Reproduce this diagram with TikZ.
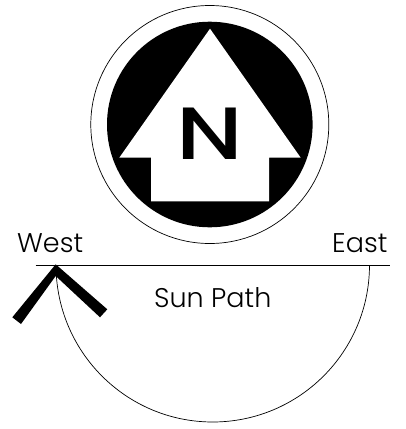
\documentclass[tikz,border=0pt]{standalone}
\usepackage{fontspec}
\setmainfont{Poppins Light}
\newfontfamily\nfont[FakeStretch=1.25]{Poppins Medium}
\tikzset{
  lab/.style={inner sep=0pt,anchor=base west,font=\fontsize{27}{27}\selectfont},
  thin line/.style={draw=black,line width=0.7pt},
  solid black/.style={fill=black,draw=none},
  solid white/.style={fill=white,draw=none}
}
\begin{document}
\begin{tikzpicture}[x=1pt,y=-1pt]
\useasboundingbox (0,0) rectangle (406,429);
\coordinate (c) at (209.8,124.5);
\draw[thin line] (c) circle[radius=119];
\fill[solid black] (c) circle[radius=102.8];
\fill[solid white] (210,28.7) -- (300.7,157.7) -- (269,157.7) -- (269,201.3) -- (151,201.3) -- (151,157.7) -- (119.3,157.7) -- cycle;
\node[inner sep=0pt,anchor=base] (n) at (209.5,159) {\nfont\fontsize{74}{74}\selectfont N};
\node[lab] (west) at (17,252) {West};
\node[lab] (east) at (332,252) {East};
\node[lab] (sun) at (154,307.7) {Sun Path};
\coordinate (l) at (35.5,265);
\coordinate (r) at (389.5,265);
\coordinate (a) at (56,265);
\coordinate (b) at (369.5,265);
\draw[thin line] (l) -- (r);
\draw[thin line] (a) arc[start angle=180,end angle=360,x radius=156.75,y radius=-157];
\fill[solid black] (55.7,264.3) -- (107.3,309.3) -- (100,317.3) -- (55.7,276) -- (21,324) -- (12.3,317.3) -- cycle;
\end{tikzpicture}
\end{document}
